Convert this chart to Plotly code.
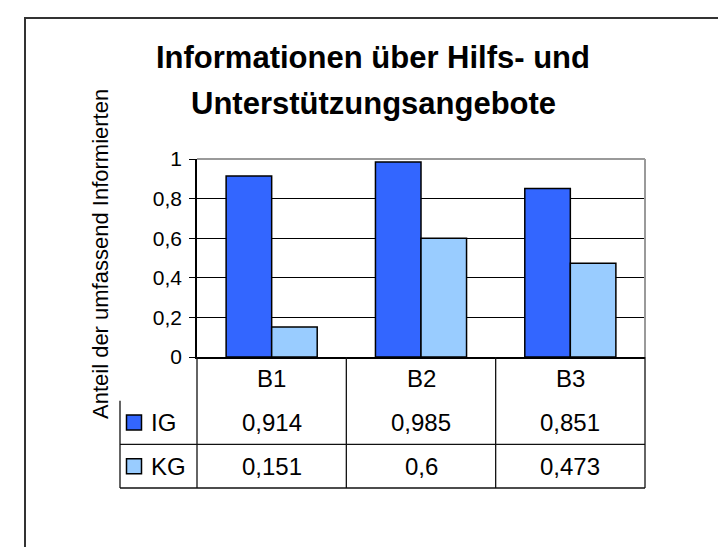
import plotly.graph_objects as go

# ---------------- data ----------------
categories = ["B1", "B2", "B3"]
series_names = ["IG", "KG"]
ig_values = [0.914, 0.985, 0.851]
kg_values = [0.151, 0.6, 0.473]
y_tickvals = [0, 0.2, 0.4, 0.6, 0.8, 1]
y_ticktext = ["0", "0,2", "0,4", "0,6", "0,8", "1"]
title_lines = ["Informationen über Hilfs- und", "Unterstützungsangebote"]
y_title = "Anteil der umfassend Informierten"
series_colors = ["#3366FF", "#99CCFF"]

series_values = [ig_values, kg_values]

# ---------------- layout geometry (pixels) ----------------
W, H = 726, 547
PL, PR, PT, PB = 104, 645, 145, 486      # full plotting region
AX_L, AX_R, AX_T, AX_B = 189, 637, 151, 349  # bar chart area
TBL_L, TBL_B = 112, 480                  # data table extents
FONT = "Liberation Sans, Arial, sans-serif"


def px_to_paper_x(p):
    return (p - PL) / (PR - PL)


def px_to_paper_y(p):
    return (PB - p) / (PB - PT)


n_cat = len(categories)
n_rows = len(series_names) + 1
col_unit = (AX_R - AX_L) / n_cat
row_unit = (TBL_B - AX_B) / n_rows


def x2(p):
    return -0.5 + (p - AX_L) / col_unit


def y2(p):
    return (n_rows - 0.5) - (p - AX_B) / row_unit


fig = go.Figure()

for name, vals, col in zip(series_names, series_values, series_colors):
    fig.add_trace(go.Bar(
        x=categories, y=vals, name=name, xaxis="x", yaxis="y",
        marker=dict(color=col, line=dict(color="black", width=1.5)),
        showlegend=False,
    ))

# legend keys inside the data table
row_of = {name: (n_rows - 2 - i) for i, name in enumerate(series_names)}
fig.add_trace(go.Scatter(
    x=[x2(126)] * len(series_names),
    y=[row_of[n] for n in series_names],
    xaxis="x2", yaxis="y2", mode="markers",
    marker=dict(symbol="square", size=15, color=series_colors,
                line=dict(color="black", width=1.5)),
    showlegend=False, hoverinfo="skip",
))

TFONT = dict(size=24, color="black", family=FONT)
annotations = []
# header
for i, c in enumerate(categories):
    annotations.append(dict(x=i, y=n_rows - 1, xref="x2", yref="y2", text=c,
                            showarrow=False, font=TFONT))
# values
for name, vals in zip(series_names, series_values):
    r = row_of[name]
    annotations.append(dict(x=x2(141), y=r, xref="x2", yref="y2", text=name,
                            xanchor="left", showarrow=False, font=TFONT))
    for i, v in enumerate(vals):
        annotations.append(dict(x=i, y=r, xref="x2", yref="y2",
                                text=("%g" % v).replace(".", ","),
                                showarrow=False, font=TFONT))
# y-axis title
annotations.append(dict(x=px_to_paper_x(92), y=px_to_paper_y(246), xref="paper", yref="paper",
                        xanchor="center", yanchor="middle",
                        text=y_title, textangle=-90, showarrow=False,
                        font=dict(size=22, color="black", family=FONT)))
# chart title (two lines)
for line, yc in zip(title_lines, [49, 96]):
    annotations.append(dict(x=px_to_paper_x(365), y=px_to_paper_y(yc), xref="paper", yref="paper",
                            xanchor="center", yanchor="middle", text="<b>%s</b>" % line,
                            showarrow=False,
                            font=dict(size=31, color="black", family=FONT)))

shapes = []
LC = "#111111"
# outer frame of the chart
shapes.append(dict(type="rect", xref="paper", yref="paper",
                   x0=px_to_paper_x(17), x1=px_to_paper_x(716),
                   y0=px_to_paper_y(560), y1=px_to_paper_y(10),
                   line=dict(color="#333333", width=2), layer="below"))
# gray top and right border of plot area
shapes.append(dict(type="line", xref="paper", yref="paper",
                   x0=px_to_paper_x(AX_L), x1=px_to_paper_x(AX_R),
                   y0=px_to_paper_y(AX_T), y1=px_to_paper_y(AX_T),
                   line=dict(color="#9a9a9a", width=2)))
shapes.append(dict(type="line", xref="paper", yref="paper",
                   x0=px_to_paper_x(AX_R), x1=px_to_paper_x(AX_R),
                   y0=px_to_paper_y(AX_T), y1=px_to_paper_y(AX_B),
                   line=dict(color="#9a9a9a", width=2)))
# table vertical lines
for k in range(n_cat + 1):
    shapes.append(dict(type="line", xref="x2", yref="y2",
                       x0=k - 0.5, x1=k - 0.5, y0=-0.5, y1=n_rows - 0.5,
                       line=dict(color=LC, width=1.3)))
shapes.append(dict(type="line", xref="x2", yref="y2",
                   x0=x2(TBL_L), x1=x2(TBL_L), y0=-0.5, y1=n_rows - 1.5,
                   line=dict(color=LC, width=1.3)))
# table horizontal lines
for r in range(n_rows - 1):
    shapes.append(dict(type="line", xref="x2", yref="y2",
                       x0=x2(TBL_L), x1=n_cat - 0.5, y0=r - 0.5, y1=r - 0.5,
                       line=dict(color=LC, width=1.3)))

fig.update_layout(
    width=W, height=H,
    margin=dict(l=PL, r=W - PR, t=PT, b=H - PB, pad=0),
    paper_bgcolor="white", plot_bgcolor="white",
    barmode="group", bargap=0.39, bargroupgap=0,
    xaxis=dict(domain=[px_to_paper_x(AX_L), px_to_paper_x(AX_R)], anchor="y",
               showticklabels=False, ticks="", showgrid=False,
               showline=True, linecolor="black", linewidth=1.5, zeroline=False),
    yaxis=dict(domain=[px_to_paper_y(AX_B), px_to_paper_y(AX_T)], anchor="x",
               range=[0, 1], tickvals=y_tickvals, ticktext=y_ticktext,
               ticks="outside", ticklen=6, tickcolor="black", tickwidth=1.3,
               ticklabelstandoff=3,
               showgrid=True, gridcolor="black", gridwidth=1,
               showline=True, linecolor="black", linewidth=1.5, zeroline=False,
               tickfont=dict(size=21, color="black", family=FONT)),
    xaxis2=dict(domain=[0, 1], anchor="y2", range=[x2(PL), x2(PR)],
                visible=False),
    yaxis2=dict(domain=[0, px_to_paper_y(AX_B)], anchor="x2",
                range=[y2(PB), n_rows - 0.5], visible=False),
    annotations=annotations,
    shapes=shapes,
)

fig.write_html("out.html")
